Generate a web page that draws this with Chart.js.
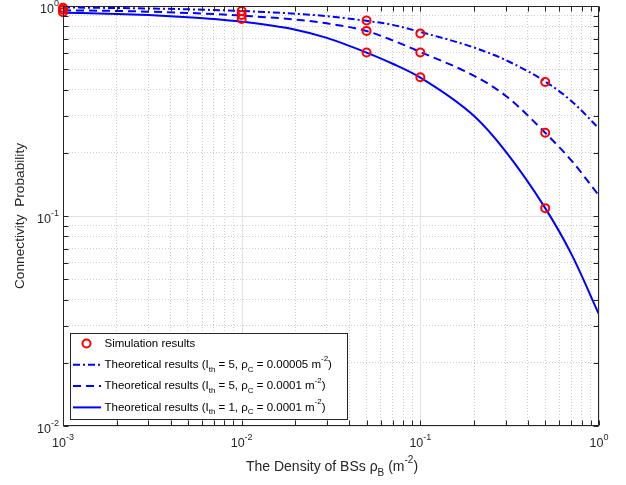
<!DOCTYPE html>
<html>
<head>
<meta charset="utf-8">
<title>Connectivity Probability</title>
<script src="https://cdn.jsdelivr.net/npm/chart.js@4.4.1/dist/chart.umd.min.js"></script>
<style>
  body { margin: 0; background: #fff; }
  canvas { display: block; }
</style>
</head>
<body>
<canvas id="connChart" width="626" height="485"></canvas>
<script>
// BS density (m^-2) used for the theoretical curves
const densityTheory = [0.001, 0.002, 0.003, 0.005, 0.007, 0.01, 0.02, 0.03, 0.05, 0.07, 0.1, 0.2, 0.3, 0.5, 0.7, 1];
// I_th = 5, rho_C = 0.00005
const theoryIth5Low = [0.984, 0.978, 0.973, 0.965, 0.957, 0.947, 0.919, 0.895, 0.850, 0.813, 0.752, 0.634, 0.553, 0.437, 0.353, 0.261];
// I_th = 5, rho_C = 0.0001
const theoryIth5 = [0.954, 0.947, 0.940, 0.927, 0.916, 0.900, 0.862, 0.827, 0.760, 0.686, 0.604, 0.465, 0.374, 0.249, 0.184, 0.125];
// I_th = 1, rho_C = 0.0001
const theoryIth1 = [0.929, 0.916, 0.905, 0.885, 0.868, 0.842, 0.771, 0.705, 0.600, 0.531, 0.456, 0.299, 0.203, 0.109, 0.066, 0.034];

// simulation points
const densitySim = [0.001, 0.01, 0.05, 0.1, 0.5];
const simIth5Low = [0.98, 0.947, 0.853, 0.740, 0.435];
const simIth5 = [0.96, 0.906, 0.761, 0.600, 0.249];
const simIth1 = [0.935, 0.868, 0.600, 0.458, 0.109];

// decades shown on the axes (tick labels are 10^n)
const xDecades = [-3, -2, -1, 0];
const yDecades = [-2, -1, 0];

const FONT = '"Liberation Sans", Arial, Helvetica, sans-serif';
const AXIS_COLOR = '#262626';

function decadeTicks(decades) {
  const vals = [];
  decades.forEach((d, i) => {
    const base = Math.pow(10, d);
    if (i === decades.length - 1) { vals.push(base); return; }
    for (let m = 1; m <= 9; m++) vals.push(+(m * base).toPrecision(3));
  });
  return vals;
}
const xGridVals = decadeTicks(xDecades);
const yGridVals = decadeTicks(yDecades);
const isMajor = v => Math.abs(Math.log10(v) - Math.round(Math.log10(v))) < 1e-9;

const pts = (xs, ys) => xs.map((x, i) => ({x: x, y: ys[i]}));

// text with sub/superscripts: parts = [[text, mode]], mode '' | 'sub' | 'sup'
function drawRich(ctx, parts, x, y, size, align) {
  const small = Math.round(size * 0.72);
  const widths = parts.map(([t, m]) => {
    ctx.font = (m ? small : size) + 'px ' + FONT;
    return ctx.measureText(t).width;
  });
  const total = widths.reduce((a, b) => a + b, 0);
  let cx = align === 'center' ? x - total / 2 : align === 'right' ? x - total : x;
  ctx.textAlign = 'left';
  ctx.textBaseline = 'middle';
  parts.forEach(([t, m], i) => {
    ctx.font = (m ? small : size) + 'px ' + FONT;
    const dy = m === 'sub' ? size * 0.42 : m === 'sup' ? -size * 0.5 : 0;
    ctx.fillText(t, cx, y + dy);
    cx += widths[i];
  });
}

const legendRows = [
  {type: 'marker', parts: [['Simulation results', '']]},
  {type: 'line', dash: [7, 3, 2, 3], parts: [['Theoretical results (I', ''], ['th', 'sub'], [' = 5, ', ''], ['\u03C1', ''], ['C', 'sub'], [' = 0.00005 m', ''], ['-2', 'sup'], [')', '']]},
  {type: 'line', dash: [8, 5], parts: [['Theoretical results (I', ''], ['th', 'sub'], [' = 5, ', ''], ['\u03C1', ''], ['C', 'sub'], [' = 0.0001 m', ''], ['-2', 'sup'], [')', '']]},
  {type: 'line', dash: [], parts: [['Theoretical results (I', ''], ['th', 'sub'], [' = 1, ', ''], ['\u03C1', ''], ['C', 'sub'], [' = 0.0001 m', ''], ['-2', 'sup'], [')', '']]}
];

const matlabAxes = {
  id: 'matlabAxes',
  beforeDatasetsDraw(chart) {
    const {ctx, chartArea: a, scales: {x, y}} = chart;
    ctx.save();
    ctx.strokeStyle = '#e2e2e2';
    ctx.lineWidth = 1;
    ctx.beginPath();
    xGridVals.filter(isMajor).forEach(v => {
      const px = Math.round(x.getPixelForValue(v)) + 0.5;
      ctx.moveTo(px, a.top); ctx.lineTo(px, a.bottom);
    });
    yGridVals.filter(isMajor).forEach(v => {
      const py = Math.round(y.getPixelForValue(v)) + 0.5;
      ctx.moveTo(a.left, py); ctx.lineTo(a.right, py);
    });
    ctx.stroke();
    ctx.restore();
  },
  afterDraw(chart) {
    const {ctx, chartArea: a, scales: {x, y}} = chart;
    ctx.save();
    // box and inward ticks
    ctx.strokeStyle = AXIS_COLOR;
    ctx.lineWidth = 1;
    ctx.setLineDash([]);
    const L = Math.round(a.left) + 0.5, R = Math.round(a.right) - 0.5;
    const T = Math.round(a.top) + 0.5, B = Math.round(a.bottom) - 0.5;
    ctx.strokeRect(L, T, R - L, B - T);
    const tl = 5;
    ctx.beginPath();
    xGridVals.forEach(v => {
      const px = Math.round(x.getPixelForValue(v)) + 0.5;
      ctx.moveTo(px, B); ctx.lineTo(px, B - tl);
      ctx.moveTo(px, T); ctx.lineTo(px, T + tl);
    });
    yGridVals.forEach(v => {
      const py = Math.round(y.getPixelForValue(v)) + 0.5;
      ctx.moveTo(L, py); ctx.lineTo(L + tl, py);
      ctx.moveTo(R, py); ctx.lineTo(R - tl, py);
    });
    ctx.stroke();

    // tick labels
    ctx.fillStyle = AXIS_COLOR;
    xDecades.forEach(d => {
      const px = x.getPixelForValue(Math.pow(10, d));
      drawRich(ctx, [['10', ''], [String(d), 'sup']], px, a.bottom + 18, 12.5, 'center');
    });
    yDecades.forEach(d => {
      const py = y.getPixelForValue(Math.pow(10, d));
      drawRich(ctx, [['10', ''], [String(d), 'sup']], a.left - 4, py + 4, 12.5, 'right');
    });

    // axis titles
    drawRich(ctx, [['The Density of BSs ', ''], ['\u03C1', ''], ['B', 'sub'], [' (m', ''], ['-2', 'sup'], [')', '']],
      (a.left + a.right) / 2 + 1, a.bottom + 41, 14, 'center');
    ctx.save();
    ctx.translate(20, (a.top + a.bottom) / 2);
    ctx.rotate(-Math.PI / 2);
    drawRich(ctx, [['Connectivity  Probability', '']], 0, 0, 13.7, 'center');
    ctx.restore();

    // legend
    const box = {x: 70.5, y: 333.5, w: 277, h: 86};
    ctx.fillStyle = '#fff';
    ctx.fillRect(box.x, box.y, box.w, box.h);
    ctx.strokeStyle = AXIS_COLOR;
    ctx.strokeRect(box.x, box.y, box.w, box.h);
    legendRows.forEach((row, i) => {
      const ry = 343.5 + i * 21.3;
      if (row.type === 'marker') {
        ctx.strokeStyle = '#ff0000';
        ctx.lineWidth = 2;
        ctx.beginPath();
        ctx.arc(86.5, ry, 4, 0, Math.PI * 2);
        ctx.stroke();
      } else {
        ctx.strokeStyle = '#0000ff';
        ctx.lineWidth = 2;
        ctx.setLineDash(row.dash);
        ctx.beginPath();
        ctx.moveTo(73, ry); ctx.lineTo(101, ry);
        ctx.stroke();
        ctx.setLineDash([]);
      }
      ctx.fillStyle = '#000';
      drawRich(ctx, row.parts, 104.5, ry, 11.5, 'left');
    });
    ctx.restore();
  }
};

function lineSet(label, data, dash) {
  return {
    label: label,
    data: data,
    borderColor: '#0000ff',
    borderWidth: 2,
    borderDash: dash,
    pointRadius: 0,
    fill: false,
    cubicInterpolationMode: 'monotone'
  };
}

const ctxConn = document.getElementById('connChart').getContext('2d');
new Chart(ctxConn, {
  type: 'line',
  data: {
    datasets: [
      {
        label: 'Simulation results',
        data: pts(densitySim, simIth5Low).concat(pts(densitySim, simIth5), pts(densitySim, simIth1)),
        showLine: false,
        pointRadius: 4,
        pointBorderWidth: 2,
        pointBorderColor: '#ff0000',
        pointBackgroundColor: 'rgba(0,0,0,0)',
        clip: false
      },
      lineSet('Theoretical results (I_th = 5, rho_C = 0.00005)', pts(densityTheory, theoryIth5Low), [7, 3, 2, 3]),
      lineSet('Theoretical results (I_th = 5, rho_C = 0.0001)', pts(densityTheory, theoryIth5), [8, 5]),
      lineSet('Theoretical results (I_th = 1, rho_C = 0.0001)', pts(densityTheory, theoryIth1), [])
    ]
  },
  options: {
    responsive: false,
    animation: false,
    layout: { padding: { left: 63, right: 27, top: 5, bottom: 59 } },
    plugins: { legend: { display: false }, tooltip: { enabled: false } },
    scales: {
      x: {
        type: 'logarithmic',
        min: 0.001,
        max: 1,
        afterBuildTicks: axis => { axis.ticks = xGridVals.map(v => ({value: v, major: isMajor(v)})); },
        ticks: { display: false, autoSkip: false },
        grid: {
          drawTicks: false,
          color: c => (c.tick && c.tick.major) ? 'rgba(0,0,0,0)' : '#cdcdcd'
        },
        border: { display: false, dash: [1, 2] }
      },
      y: {
        type: 'logarithmic',
        min: 0.01,
        max: 1,
        afterBuildTicks: axis => { axis.ticks = yGridVals.map(v => ({value: v, major: isMajor(v)})); },
        ticks: { display: false, autoSkip: false },
        grid: {
          drawTicks: false,
          color: c => (c.tick && c.tick.major) ? 'rgba(0,0,0,0)' : '#cdcdcd'
        },
        border: { display: false, dash: [1, 2] }
      }
    }
  },
  plugins: [matlabAxes]
});
</script>
</body>
</html>
